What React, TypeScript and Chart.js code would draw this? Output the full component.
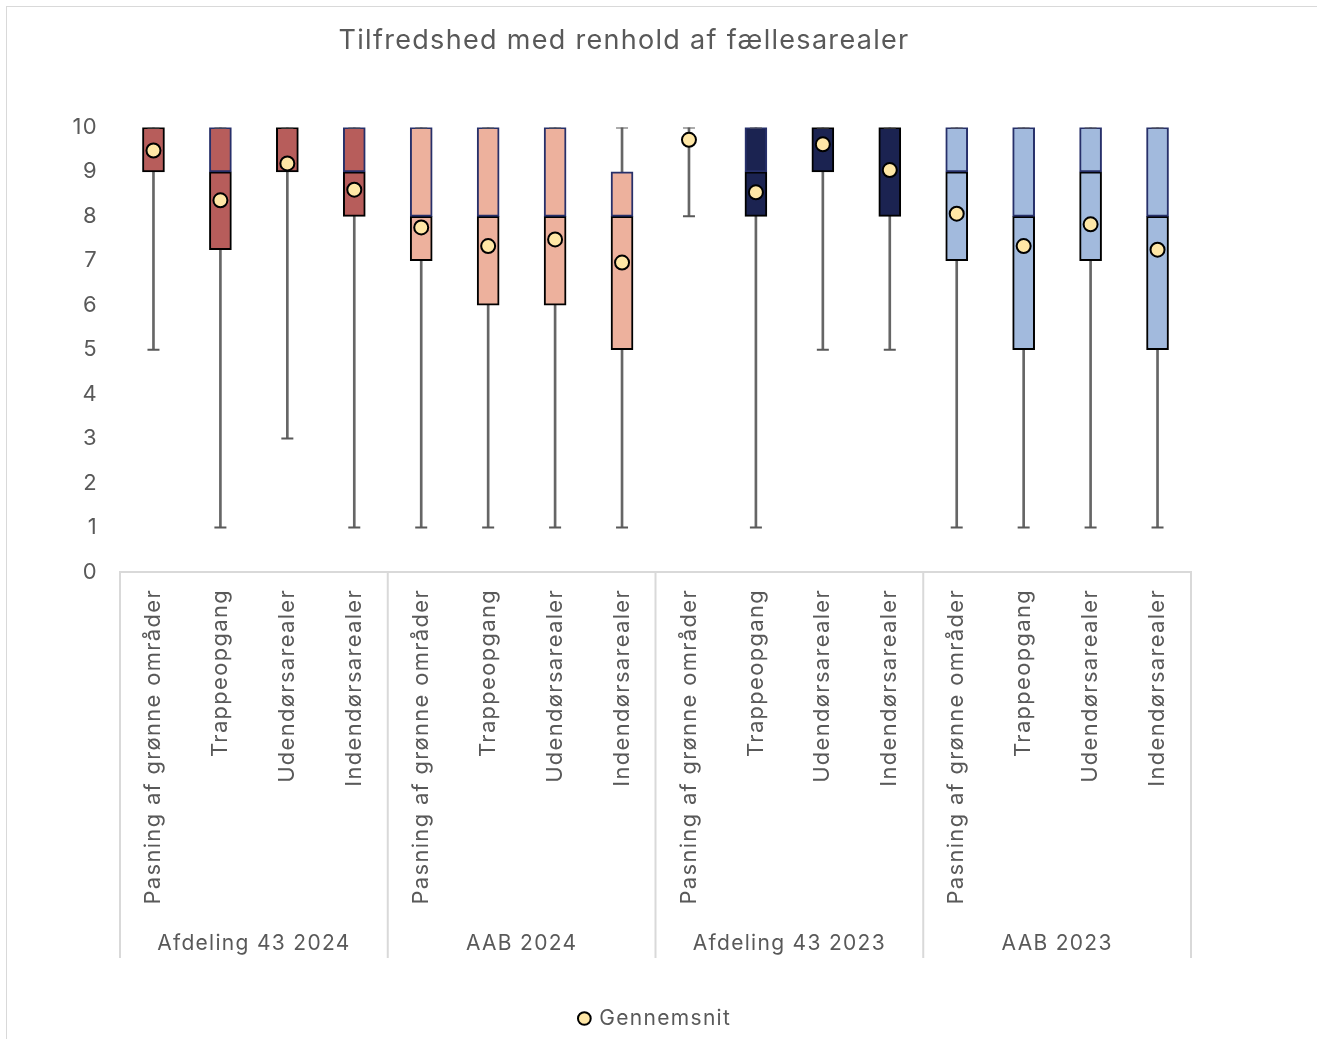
import React, { useEffect, useRef } from "react";
import { Chart, registerables } from "chart.js";

Chart.register(...registerables);

const FONT = "Inter";
const TEXT = "#595959";
const LETTER_SPACING = "1.3px";

const categories = [
  "Pasning af grønne områder", "Trappeopgang", "Udendørsarealer", "Indendørsarealer",
  "Pasning af grønne områder", "Trappeopgang", "Udendørsarealer", "Indendørsarealer",
  "Pasning af grønne områder", "Trappeopgang", "Udendørsarealer", "Indendørsarealer",
  "Pasning af grønne områder", "Trappeopgang", "Udendørsarealer", "Indendørsarealer",
];
const groups = ["Afdeling 43 2024", "AAB 2024", "Afdeling 43 2023", "AAB 2023"];
const groupColors = ["#B75D5B", "#EDB19D", "#1B2351", "#A2BADD"];

const minValues = [5, 1, 3, 1, 1, 1, 1, 1, 8, 1, 5, 5, 1, 1, 1, 1];
const q1Values = [9, 7.25, 9, 8, 7, 6, 6, 5, 10, 8, 9, 8, 7, 5, 7, 5];
const medianValues = [10, 9, 10, 9, 8, 8, 8, 8, 10, 9, 10, 10, 9, 8, 9, 8];
const q3Values = [10, 10, 10, 10, 10, 10, 10, 9, 10, 10, 10, 10, 10, 10, 10, 10];
const maxValues = [10, 10, 10, 10, 10, 10, 10, 10, 10, 10, 10, 10, 10, 10, 10, 10];
const meanValues = [9.48, 8.36, 9.19, 8.6, 7.75, 7.33, 7.48, 6.96, 9.72, 8.54, 9.62, 9.04, 8.06, 7.33, 7.82, 7.25];

const yTicks = [0, 1, 2, 3, 4, 5, 6, 7, 8, 9, 10];

const letterSpacing = {
  id: "letterSpacing",
  beforeUpdate(chart: any) { (chart.ctx as any).letterSpacing = LETTER_SPACING; },
  beforeLayout(chart: any) { (chart.ctx as any).letterSpacing = LETTER_SPACING; },
  beforeDraw(chart: any) { (chart.ctx as any).letterSpacing = LETTER_SPACING; },
};

const groupSeparators = {
  id: "groupSeparators",
  afterDraw(chart: any) {
    const x = chart.scales.x;
    const x2 = chart.scales.x2;
    const ctx = chart.ctx;
    const per = categories.length / groups.length;
    const bounds: number[] = [];
    for (let g = 0; g <= groups.length; g++) {
      if (g === 0) bounds.push(x.left);
      else if (g === groups.length) bounds.push(x.right);
      else bounds.push((x.getPixelForValue(g * per - 1) + x.getPixelForValue(g * per)) / 2);
    }
    ctx.save();
    ctx.strokeStyle = "#D9D9D9";
    ctx.lineWidth = 2;
    bounds.forEach((px) => {
      ctx.beginPath();
      ctx.moveTo(px, x.top);
      ctx.lineTo(px, x2.bottom);
      ctx.stroke();
    });
    ctx.restore();
  },
};

export default function App() {
  const ref = useRef<HTMLCanvasElement>(null);

  useEffect(() => {
    if (!ref.current) return;
    const colorAt = (i: number) => groupColors[Math.floor(i / (categories.length / groups.length))];
    const bg = categories.map((_, i) => colorAt(i));

    const chart = new Chart(ref.current, {
      type: "bar",
      data: {
        labels: categories,
        datasets: [
          {
            type: "line",
            label: "Gennemsnit",
            data: meanValues,
            showLine: false,
            pointStyle: "circle",
            pointRadius: 7,
            backgroundColor: "#FFE7A6",
            borderColor: "#000000",
            borderWidth: 2,
            pointBackgroundColor: "#FFE7A6",
            pointBorderColor: "#000000",
            pointBorderWidth: 2,
            order: 0,
          } as any,
          {
            type: "line",
            label: "capMin",
            data: minValues,
            showLine: false,
            pointStyle: "line",
            pointRadius: 6,
            borderColor: "#595959",
            pointBorderColor: "#595959",
            pointBorderWidth: 2,
            order: 1,
          } as any,
          {
            type: "line",
            label: "capMax",
            data: maxValues,
            showLine: false,
            pointStyle: "line",
            pointRadius: 6,
            borderColor: "#595959",
            pointBorderColor: "#595959",
            pointBorderWidth: 2,
            order: 1,
          } as any,
          {
            label: "upper",
            data: categories.map((_, i) => [medianValues[i], q3Values[i]]),
            backgroundColor: bg,
            borderColor: "#27306A",
            borderWidth: 2,
            borderSkipped: false,
            barThickness: 22,
            grouped: false,
            order: 2,
          } as any,
          {
            label: "lower",
            data: categories.map((_, i) => [q1Values[i], medianValues[i]]),
            backgroundColor: bg,
            borderColor: "#000000",
            borderWidth: 2,
            borderSkipped: false,
            barThickness: 22,
            grouped: false,
            order: 2,
          } as any,
          {
            label: "whisker",
            data: categories.map((_, i) => [minValues[i], maxValues[i]]),
            backgroundColor: "#666666",
            borderWidth: 0,
            barThickness: 2,
            grouped: false,
            order: 3,
          } as any,
        ],
      },
      options: {
        responsive: true,
        maintainAspectRatio: false,
        animation: false,
        events: [],
        layout: { padding: { left: 0, right: 76, top: 0, bottom: 0 } },
        plugins: {
          tooltip: { enabled: false },
          title: {
            display: true,
            text: "Tilfredshed med renhold af fællesarealer",
            color: TEXT,
            font: { family: FONT, size: 27, weight: "normal" },
            padding: { top: 18, bottom: 70 },
          },
          legend: {
            display: true,
            position: "bottom",
            fullSize: false,
            labels: {
              usePointStyle: true,
              boxWidth: 9,
              boxHeight: 9,
              padding: 50,
              color: TEXT,
              font: { family: FONT, size: 21 },
              filter: (item: any) => item.text === "Gennemsnit",
            },
          },
        },
        scales: {
          x: {
            type: "category",
            position: "bottom",
            weight: 0,
            grid: { display: false, drawTicks: false },
            border: { display: true, color: "#D9D9D9", width: 2 },
            ticks: {
              autoSkip: false,
              minRotation: 90,
              maxRotation: 90,
              padding: 17,
              color: TEXT,
              font: { family: FONT, size: 22 },
            },
            afterFit: (s: any) => { s.height = 339; },
          },
          x2: {
            type: "category",
            position: "bottom",
            weight: 1,
            labels: groups,
            offset: true,
            grid: { display: false, drawTicks: false },
            border: { display: false },
            ticks: {
              padding: 20,
              color: TEXT,
              font: { family: FONT, size: 21 },
            },
            afterFit: (s: any) => { s.height = 47; },
          },
          y: {
            type: "linear",
            position: "left",
            min: 0,
            max: 10,
            grid: { display: false, drawTicks: false },
            border: { display: false },
            afterBuildTicks: (s: any) => { s.ticks = yTicks.map((v) => ({ value: v })); },
            ticks: {
              padding: 22,
              color: TEXT,
              font: { family: FONT, size: 22 },
            },
            afterFit: (s: any) => { s.width = 113; },
          },
          y2: {
            type: "linear",
            position: "right",
            display: true,
            grid: { display: false, drawTicks: false },
            border: { display: false },
            ticks: { display: false },
            afterFit: (s: any) => { s.width = 50; },
          },
        },
      },
      plugins: [letterSpacing, groupSeparators],
    });
    return () => chart.destroy();
  }, []);

  return (
    <div
      style={{
        position: "fixed",
        left: 6,
        top: 6,
        width: 1311,
        height: 1033,
        borderLeft: "1px solid #D9D9D9",
        borderTop: "1px solid #D9D9D9",
        boxSizing: "border-box",
        background: "#FFFFFF",
      }}
    >
      <div style={{ position: "relative", width: 1310, height: 1032 }}>
        <canvas ref={ref} />
      </div>
    </div>
  );
}
